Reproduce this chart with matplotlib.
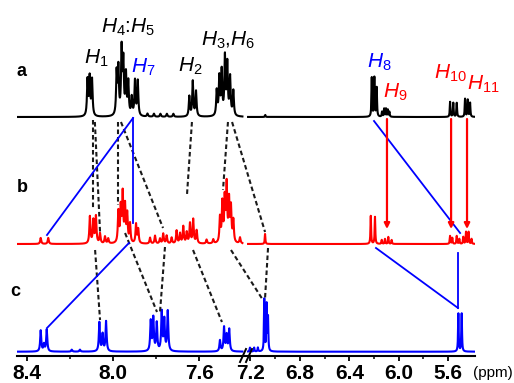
import numpy as np
import matplotlib
matplotlib.use('Agg')
import matplotlib.pyplot as plt
from matplotlib.ticker import FixedLocator, FormatStrFormatter

plt.rcParams['font.family'] = ['Liberation Sans', 'DejaVu Sans']
plt.rcParams['mathtext.fontset'] = 'custom'
plt.rcParams['mathtext.it'] = 'Liberation Sans:italic'
plt.rcParams['mathtext.rm'] = 'Liberation Sans'

# peak lists: shift (ppm) and height
a_pos = [8.118, 8.108, 8.097,
         7.983, 7.975, 7.960, 7.952, 7.940, 7.929,
         7.913, 7.898, 7.885,
         7.84, 7.81, 7.78, 7.75, 7.72,
         7.646, 7.630, 7.615,
         7.519, 7.507, 7.496, 7.481, 7.470, 7.457, 7.442,
         7.08,
         6.218, 6.197, 6.178,
         6.135, 6.118, 6.103, 6.088, 6.075,
         5.584, 5.558, 5.530,
         5.463, 5.441, 5.422]
a_hgt = [36, 38, 36,
         42, 46, 65, 52, 40, 33,
         18, 35, 35,
         3, 3, 3, 3, 3,
         20, 35, 25,
         25, 38, 44, 58, 51, 38, 25,
         2,
         39, 39, 29,
         5, 8, 8, 7, 5,
         15, 14, 14,
         18, 17, 14]

b_pos = [8.335, 8.300,
         8.107, 8.091, 8.079,
         8.060, 8.037, 8.022,
         7.975, 7.964, 7.955, 7.944, 7.934, 7.921, 7.893, 7.883,
         7.828, 7.805, 7.782, 7.767, 7.751, 7.728,
         7.705, 7.689, 7.674, 7.658, 7.643, 7.628, 7.612,
         7.566, 7.535,
         7.504, 7.493, 7.482, 7.473, 7.462, 7.453, 7.442, 7.411,
         7.082,
         6.226, 6.192,
         6.137, 6.111, 6.084, 6.057,
         5.584, 5.566, 5.530, 5.509, 5.477, 5.455, 5.434, 5.410]
b_hgt = [6, 6,
         27, 23, 27,
         10, 7, 5,
         31, 34, 48, 36, 28, 19, 19, 14,
         6, 8, 5, 10, 8, 6,
         13, 10, 17, 11, 20, 24, 13,
         4, 4,
         25, 39, 42, 56, 41, 34, 22, 6,
         10,
         28, 27,
         4, 5, 7, 4,
         8, 6, 8, 5, 7, 12, 12, 5]

c_pos = [8.335, 8.320, 8.307,
         8.191, 8.153,
         8.063, 8.048, 8.032,
         7.825, 7.813, 7.797, 7.774, 7.762, 7.746,
         7.504, 7.485, 7.473, 7.461,
         7.204, 7.17, 7.14,
         7.088, 7.069, 7.058,
         5.517, 5.490]
c_hgt = [21, 7, 22,
         2, 2,
         29, 17, 30,
         30, 33, 28, 39, 31, 40,
         11, 24, 16, 22,
         4, 4, 4,
         52, 46, 33,
         38, 38]

tick_major = [8.4, 8.0, 7.6, 7.2, 6.8, 6.4, 6.0, 5.6]
tick_minor = [8.2, 7.8, 7.0, 6.6, 6.2, 5.8]

# vertical offsets of the three traces
base = {'a': 239, 'b': 112, 'c': 4.3}

# broken ppm axis: two linear pieces joined by a tiny gap
brk_ppm = np.array([5.0, 7.22, 7.40, 9.0])
brk_u = -np.array([522.2, 248.0, 242.4, -102.7])


def fwd(p):
    return np.interp(p, brk_ppm, brk_u)


def inv(u):
    return np.interp(u, brk_u, brk_ppm)


def spectrum(x, pos, hgt, hw=0.003):
    y = np.zeros_like(x)
    for c, h in zip(pos, hgt):
        y += h / (1 + ((x - c) / hw) ** 2)
    return y


fig = plt.figure(figsize=(5.14, 3.83), dpi=100)
ax = fig.add_axes([17 / 514, 27 / 383, (475.3 - 17) / 514, 356 / 383])
ax.set_xscale('function', functions=(fwd, inv))

left = np.arange(7.40, 8.445, 0.0005)
right = np.arange(5.38, 7.22, 0.0005)
for key, pos, hgt, col in [('a', a_pos, a_hgt, 'black'),
                           ('b', b_pos, b_hgt, '#ff0000'),
                           ('c', c_pos, c_hgt, '#0000ff')]:
    for seg in (left, right):
        ax.plot(seg, base[key] + spectrum(seg, pos, hgt), color=col, lw=1.5)

# dashed correlation lines
dashed = [
    (8.093, 236, 8.093, 146),
    (8.084, 234, 8.060, 124),
    (7.977, 234, 7.977, 151),
    (7.963, 234, 7.768, 128),
    (7.634, 234, 7.657, 161),
    (7.467, 234, 7.490, 166),
    (7.448, 234, 7.082, 124),
    (8.083, 106, 8.060, 36),
    (7.944, 123, 7.796, 44),
    (7.759, 109, 7.782, 44),
    (7.629, 106, 7.495, 34),
    (7.453, 106, 7.099, 56),
    (7.058, 108, 7.082, 58),
]
for p1, y1, p2, y2 in dashed:
    ax.plot([p1, p2], [y1, y2], color='0.1', lw=1.5, ls=(0, (2.2, 1.4)))

# blue connections
blue = [
    (8.306, 121, 7.907, 238),
    (7.907, 238, 7.907, 133),
    (7.926, 113, 8.306, 28),
    (6.200, 235, 5.503, 123),
    (6.184, 108, 5.520, 48),
    (5.520, 103, 5.520, 48),
]
for p1, y1, p2, y2 in blue:
    ax.plot([p1, p2], [y1, y2], color='#0000ff', lw=1.3)

# red arrows
for p in [6.095, 5.576, 5.447]:
    ax.annotate('', xy=(p, 127), xytext=(p, 237),
                arrowprops=dict(arrowstyle='-|>', color='#ff0000', lw=1.6,
                                mutation_scale=8, shrinkA=0, shrinkB=0))

labels = [
    (8.079, 298, r'$H_{\mathrm{1}}$', 'black'),
    (7.930, 329, r'$H_{\mathrm{4}}$:$H_{\mathrm{5}}$', 'black'),
    (7.861, 289, r'$H_{\mathrm{7}}$', '#0000ff'),
    (7.643, 290, r'$H_{\mathrm{2}}$', 'black'),
    (7.467, 316, r'$H_{\mathrm{3}}$,$H_{\mathrm{6}}$', 'black'),
    (6.159, 294, r'$H_{\mathrm{8}}$', '#0000ff'),
    (6.030, 264, r'$H_{\mathrm{9}}$', '#ff0000'),
    (5.584, 283, r'$H_{\mathrm{10}}$', '#ff0000'),
    (5.317, 272, r'$H_{\mathrm{11}}$', '#ff0000'),
]
for p, y, s, col in labels:
    ax.text(p, y, s, fontsize=15, color=col, ha='center', va='center')

for p, y, s in [(8.426, 284, 'a'), (8.422, 169, 'b'), (8.452, 64, 'c')]:
    ax.text(p, y, s, fontsize=13, fontweight='bold', ha='center', va='center')

ax.set_xlim(8.445, 5.38)
ax.set_ylim(0, 356)
ax.xaxis.set_major_locator(FixedLocator(tick_major))
ax.xaxis.set_minor_locator(FixedLocator(tick_minor))
ax.xaxis.set_major_formatter(FormatStrFormatter('%.1f'))
ax.tick_params(axis='x', which='major', direction='out', length=3.6, width=1.3,
               labelsize=15, pad=2)
ax.tick_params(axis='x', which='minor', direction='out', length=2, width=1.1)
for t in ax.get_xticklabels():
    t.set_fontweight('bold')
ax.set_yticks([])
for s in ['left', 'right', 'top']:
    ax.spines[s].set_visible(False)
ax.spines['bottom'].set_linewidth(1.5)
ax.patch.set_alpha(0)

# break marks on the axis
for x0 in [240, 246]:
    fig.add_artist(plt.Line2D([x0 / 514, (x0 + 6) / 514],
                              [1 - 362 / 383, 1 - 349 / 383],
                              color='black', lw=1.4))

fig.text(493 / 514, 1 - 373 / 383, '(ppm)', fontsize=11, ha='center', va='center')

fig.savefig('out.png', dpi=100)
